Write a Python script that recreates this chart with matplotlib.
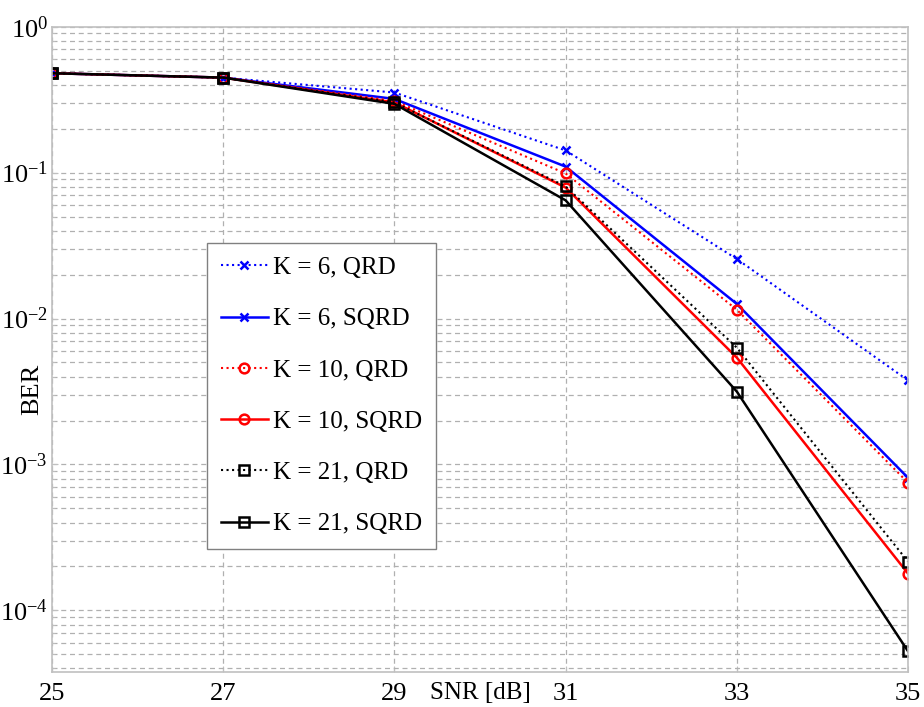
import matplotlib
matplotlib.use("Agg")
import matplotlib.pyplot as plt
from matplotlib.ticker import LogLocator, FixedLocator, FuncFormatter
import math

plt.rcParams['font.family'] = ['Liberation Serif', 'DejaVu Serif']
plt.rcParams['mathtext.fontset'] = 'custom'
plt.rcParams['mathtext.rm'] = 'Liberation Serif'
plt.rcParams['mathtext.it'] = 'Liberation Serif:italic'
plt.rcParams['axes.unicode_minus'] = False

snr = [25, 27, 29, 31, 33, 35]
k6_qrd = [0.48, 0.448, 0.354, 0.142, 0.0256, 0.00377]
k6_sqrd = [0.48, 0.448, 0.32, 0.110, 0.0126, 0.00081]
k10_qrd = [0.48, 0.448, 0.31, 0.0988, 0.0115, 0.00075]
k10_sqrd = [0.48, 0.448, 0.303, 0.079, 0.0054, 0.000179]
k21_qrd = [0.48, 0.448, 0.303, 0.0805, 0.00632, 0.000216]
k21_sqrd = [0.48, 0.448, 0.296, 0.0646, 0.00316, 0.0000525]

labels = ['K = 6, QRD', 'K = 6, SQRD', 'K = 10, QRD', 'K = 10, SQRD',
          'K = 21, QRD', 'K = 21, SQRD']
xticks = [25, 27, 29, 31, 33, 35]

fig = plt.figure(figsize=(9.24, 7.07), dpi=100)
ax = fig.add_axes([0.0563, 0.0499, 0.9264, 0.9123])

series = [
    (k6_qrd, 'blue', ':', 'x', 6, 1.5),
    (k6_sqrd, 'blue', '-', 'x', 6, 1.8),
    (k10_qrd, 'red', ':', 'o', 7, 1.5),
    (k10_sqrd, 'red', '-', 'o', 7, 1.8),
    (k21_qrd, 'black', ':', 's', 7, 1.5),
    (k21_sqrd, 'black', '-', 's', 7, 1.8),
]
for (vals, c, ls, m, ms, lw), lab in zip(series, labels):
    ax.plot(snr, vals, color=c, linestyle=ls, marker=m, markersize=ms,
            markerfacecolor='none', markeredgecolor=c, markeredgewidth=1.8,
            linewidth=lw, label=lab)

ax.set_yscale('log')
ax.set_xlim(25, 35)
ax.set_ylim(3.8e-5, 1)
ax.xaxis.set_major_locator(FixedLocator(xticks))
ax.set_xticklabels([str(t) for t in xticks])
ax.yaxis.set_major_locator(LogLocator(base=10, numticks=10))
ax.yaxis.set_minor_locator(LogLocator(base=10, subs=range(2, 10), numticks=20))


def fmt(v, pos):
    e = int(round(math.log10(v)))
    return r'$\mathregular{10^{%d}}$' % e


ax.yaxis.set_major_formatter(FuncFormatter(fmt))

gc = '#b0b0b0'
ax.grid(True, which='major', axis='x', linestyle=(0, (4, 3)), color=gc, linewidth=0.9)
ax.grid(True, which='both', axis='y', linestyle=(0, (4, 3)), color=gc, linewidth=0.9)
ax.set_axisbelow(True)

for s in ax.spines.values():
    s.set_color('#c0c0c0')
    s.set_linewidth(1.2)

ax.tick_params(axis='x', which='major', direction='in', length=4,
               color='#c0c0c0', labelsize=19, labelcolor='black', pad=8)
ax.tick_params(axis='y', which='major', direction='in', length=4,
               color='#c0c0c0', labelsize=19, labelcolor='black', pad=3)
ax.tick_params(axis='y', which='minor', direction='in', length=2, color='#c0c0c0')

ax.set_xlabel('SNR [dB]', fontsize=18)
ax.xaxis.set_label_coords(0.5, -0.033)
ax.xaxis.label.set_va('center')
ax.set_ylabel('BER', fontsize=19)
ax.yaxis.set_label_coords(-0.023, 0.437)
ax.yaxis.label.set_va('center')

leg = ax.legend(loc='upper left', bbox_to_anchor=(0.181, 0.665), fontsize=18,
                fancybox=False, framealpha=1, edgecolor='#808080',
                handlelength=1.9, labelspacing=1.15, borderpad=0.55,
                handletextpad=0.2, borderaxespad=0)
leg.get_frame().set_linewidth(1.0)

fig.savefig('out.png', dpi=100)
